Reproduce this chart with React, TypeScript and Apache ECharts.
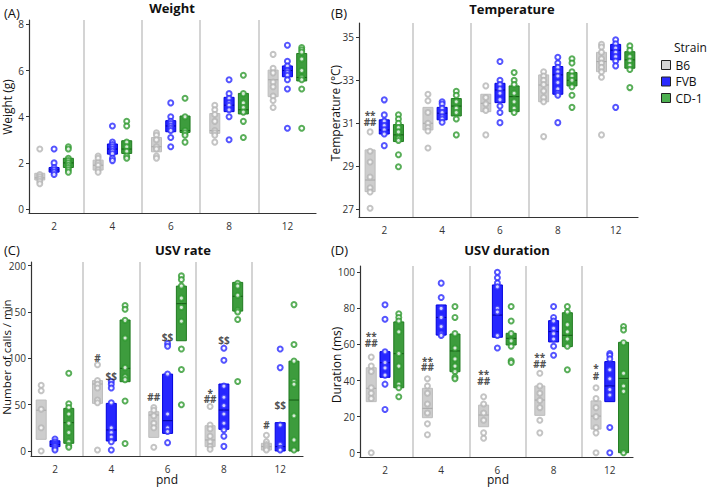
import React, { useEffect, useRef } from "react";
import * as echarts from "echarts";

const strains = ["B6", "FVB", "CD-1"];
const pnd = ["2", "4", "6", "8", "12"];

// Boxes: [low, median, high] per pnd
const weightBoxB6 = [[1.26, 1.35, 1.55], [1.69, 1.9, 2.12], [2.48, 2.7, 3.1], [3.28, 3.4, 4.14], [4.87, 5.6, 6.02]];
const weightBoxFVB = [[1.6, 1.7, 1.8], [2.38, 2.6, 2.82], [3.35, 3.6, 3.83], [4.22, 4.5, 4.84], [5.73, 6.0, 6.2]];
const weightBoxCD1 = [[1.8, 2.0, 2.2], [2.41, 2.6, 2.96], [3.32, 3.4, 4.03], [4.12, 4.3, 5.01], [5.55, 5.7, 6.74]];
const weightPtsB6 = [[2.6, 1.5, 1.4, 1.3, 1.2, 1.1], [2.3, 2.2, 2.0, 1.9, 1.7, 1.6], [3.3, 3.2, 3.0, 2.7, 2.6, 2.3, 2.2], [4.5, 4.3, 4.1, 3.8, 3.4, 3.3, 3.2, 2.9], [6.7, 6.1, 5.9, 5.5, 5.3, 4.9, 4.7, 4.4]];
const weightPtsFVB = [[2.6, 2.0, 1.8, 1.7, 1.6, 1.5], [3.6, 2.9, 2.8, 2.7, 2.6, 2.5, 2.4, 2.2, 2.1], [4.6, 4.0, 3.8, 3.7, 3.6, 3.5, 3.4, 3.1, 2.7], [5.6, 5.0, 4.8, 4.6, 4.5, 4.3, 4.0, 3.0], [7.1, 6.4, 6.2, 6.0, 5.9, 5.8, 5.6, 5.2, 3.5]];
const weightPtsCD1 = [[2.7, 2.6, 2.2, 2.1, 2.0, 1.9, 1.8, 1.7, 1.6], [3.8, 3.6, 2.9, 2.7, 2.5, 2.3, 2.2], [4.8, 4.0, 3.4, 3.3, 3.2, 2.9], [5.8, 5.0, 4.6, 4.4, 4.2, 3.8, 3.1], [7.0, 6.9, 6.8, 6.5, 6.0, 5.7, 5.6, 5.2, 3.5]];

const tempBoxB6 = [[27.82, 28.36, 29.76], [30.69, 31.0, 31.74], [31.54, 31.93, 32.35], [32.0, 32.78, 33.25], [33.4, 33.87, 34.3]];
const tempBoxFVB = [[30.5, 30.69, 31.16], [31.16, 31.47, 31.74], [31.96, 32.55, 32.86], [32.35, 33.25, 33.64], [33.95, 34.4, 34.67]];
const tempBoxCD1 = [[30.15, 30.46, 30.94], [31.34, 31.8, 32.15], [31.54, 32.24, 32.74], [32.74, 33.0, 33.36], [33.56, 33.95, 34.33]];
const tempPtsB6 = [[30.6, 29.7, 29.2, 28.5, 28.0, 27.8, 27.05], [32.35, 32.05, 31.5, 31.0, 30.8, 30.64, 29.85], [32.74, 32.2, 31.9, 31.6, 30.46], [33.4, 33.2, 33.0, 32.8, 32.5, 32.2, 32.0, 30.38], [34.67, 34.55, 34.3, 34.0, 33.8, 33.6, 33.4, 33.14, 30.46]];
const tempPtsFVB = [[32.09, 31.39, 31.1, 30.9, 30.7, 30.5, 29.96], [32.0, 31.9, 31.7, 31.5, 31.3, 31.2, 31.05], [33.87, 33.0, 32.8, 32.6, 32.4, 32.1, 31.8, 31.5, 31.03], [34.07, 33.8, 33.6, 33.4, 33.2, 32.9, 32.6, 32.4, 32.3, 31.03], [34.88, 34.7, 34.5, 34.3, 34.1, 33.9, 33.67, 31.74]];
const tempPtsCD1 = [[31.4, 31.2, 31.0, 30.8, 30.6, 30.3, 30.2, 29.54, 28.98], [32.49, 32.3, 32.0, 31.7, 31.5, 31.2, 30.46], [33.36, 33.0, 32.8, 32.4, 32.0, 31.7, 31.5], [34.0, 33.8, 33.4, 33.2, 33.0, 32.7, 32.3, 31.74], [34.6, 34.4, 34.1, 33.9, 33.7, 33.5, 32.66]];

const rateBoxB6 = [[12.6, 44, 55], [51.4, 72.3, 76], [14.7, 38.8, 42.4], [4.7, 11.9, 27.3], [1, 4.7, 8.3]];
const rateBoxFVB = [[4.7, 7, 11], [10.8, 22.7, 51.4], [19, 32.7, 83], [23.4, 44.2, 72.3], [0, 4.7, 30.6]];
const rateBoxCD1 = [[8.3, 30.6, 46], [74.8, 89.2, 141.4], [119, 159, 178], [151, 167, 182], [0, 55, 97]];
const ratePtsB6 = [[71, 65, 45, 25, 0], [93, 76, 72, 68, 55, 52, 1], [47, 44, 38, 30, 25, 4], [48, 28, 24, 16, 10, 5, 2], [17, 10, 7, 5, 3, 1]];
const ratePtsFVB = [[13, 10, 8, 7, 6, 5, 3, 1], [75, 72, 68, 52, 25, 20, 15, 10, 1], [116, 113, 83, 40, 25, 21, 9], [111, 98, 70, 58, 49, 40, 30, 23, 16, 5], [110, 90, 28, 7, 3, 1]];
const ratePtsCD1 = [[84, 51, 47, 40, 30, 20, 10, 6, 4], [157, 153, 141, 122, 90, 80, 77, 54, 8], [189, 185, 178, 165, 155, 140, 110, 88, 50], [181, 178, 168, 152, 150, 142, 75], [158, 115, 97, 75, 72, 38, 12, 1]];

const durBoxB6 = [[28.3, 35.7, 47.1], [19.4, 24.6, 35.7], [14.4, 20.9, 26.4], [20.7, 29.2, 37], [13.1, 20.3, 28.7]];
const durBoxFVB = [[41.8, 49.9, 56], [65.2, 75, 81.9], [64, 76.3, 93], [61.4, 67.1, 73.2], [28.3, 37, 50.5]];
const durBoxCD1 = [[36, 54.9, 72.5], [44.9, 56.4, 65.8], [59.7, 63.4, 66.2], [58.8, 65.1, 77.6], [0, 41.2, 61.2]];
const durPtsB6 = [[53, 48, 45, 36, 33, 30, 0], [41, 37, 33, 27, 22, 16, 10], [31, 27, 22, 18, 11, 8], [44, 37, 33, 29, 25, 18, 11], [36, 30, 25, 20, 14, 11, 0]];
const durPtsFVB = [[82, 74, 56, 50, 47, 43, 38, 24], [94, 86, 80, 75, 70, 66, 65], [100, 97, 94, 92, 80, 78, 65, 58], [81, 75, 73, 69, 66, 63, 59, 54], [55, 54, 52, 46, 41, 35, 32, 14, 0]];
const durPtsCD1 = [[77, 75, 73, 67, 55, 48, 38, 36, 31], [81, 75, 66, 58, 52, 48, 45, 42, 41], [81, 73, 66, 62, 59, 51, 50], [81, 78, 71, 67, 63, 59, 46], [70, 68, 61, 44, 37, 34, 0]];

// Significance marks: [pnd index, strain index, text, value]
const tempNotes = [[0, 0, "**", 31.54], [0, 0, "##", 31.05]];
const rateNotes = [[1, 0, "#", 100.7], [1, 1, "$$", 81], [2, 0, "##", 58.6], [2, 1, "$$", 122.7], [3, 0, "*", 65.8], [3, 0, "##", 56.1], [3, 1, "$$", 119.8], [4, 0, "#", 28], [4, 1, "$$", 49.6]];
const durNotes = [[0, 0, "**", 66.5], [0, 0, "##", 61], [1, 0, "**", 52.7], [1, 0, "##", 47.3], [2, 0, "**", 45.3], [2, 0, "##", 39.9], [3, 0, "**", 54.5], [3, 0, "##", 49.2], [4, 0, "*", 48.6], [4, 0, "#", 42.7]];

const weightTicks = [0, 2, 4, 6, 8];
const tempTicks = [27, 29, 31, 33, 35];
const rateTicks = [0, 50, 100, 150, 200];
const durTicks = [0, 20, 40, 60, 80, 100];

const FONT = "'Open Sans', 'DejaVu Sans', sans-serif";
const offsets = [-0.245, 0, 0.245];
const boxFill = ["rgba(196,196,196,0.85)", "rgba(20,20,255,0.92)", "rgba(40,145,40,0.9)"];
const boxStroke = ["#bdbdbd", "#0000dd", "#1f7a1f"];
const medStroke = ["#a6a6a6", "#00009a", "#145a14"];
const ptColor = ["#b5b5b5", "#2a2aff", "#2f9a2f"];
const legendFill = ["#d6d6d6", "#2a2aff", "#4caf50"];

const panels = [
  { title: "Weight", tag: "(A)", yName: "Weight (g)", grid: { left: 29, top: 20, width: 287, height: 193 }, x: [-0.43, 4.49], y: [-0.17, 8.19], ticks: weightTicks, boxes: [weightBoxB6, weightBoxFVB, weightBoxCD1], pts: [weightPtsB6, weightPtsFVB, weightPtsCD1], notes: [] as any[] },
  { title: "Temperature", tag: "(B)", yName: "Temperature (°C)", grid: { left: 359, top: 23, width: 279, height: 194 }, x: [-0.437, 4.386], y: [26.64, 35.665], ticks: tempTicks, boxes: [tempBoxB6, tempBoxFVB, tempBoxCD1], pts: [tempPtsB6, tempPtsFVB, tempPtsCD1], notes: tempNotes },
  { title: "USV rate", tag: "(C)", yName: "Number of calls / min", grid: { left: 31, top: 262, width: 272, height: 194 }, x: [-0.426, 4.405], y: [-5.4, 204], ticks: rateTicks, boxes: [rateBoxB6, rateBoxFVB, rateBoxCD1], pts: [ratePtsB6, ratePtsFVB, ratePtsCD1], notes: rateNotes },
  { title: "USV duration", tag: "(D)", yName: "Duration (ms)", grid: { left: 360, top: 266, width: 273, height: 191 }, x: [-0.445, 4.413], y: [-2.38, 103.5], ticks: durTicks, boxes: [durBoxB6, durBoxFVB, durBoxCD1], pts: [durPtsB6, durPtsFVB, durPtsCD1], notes: durNotes },
];

function buildOption() {
  const grid: any[] = [];
  const xAxis: any[] = [];
  const yAxis: any[] = [];
  const series: any[] = [];
  panels.forEach((p, gi) => {
    grid.push({ ...p.grid, containLabel: false });
    xAxis.push({
      type: "value", gridIndex: gi, min: p.x[0], max: p.x[1],
      axisLine: { show: true, onZero: false, lineStyle: { color: "#333", width: 1.2 } },
      axisTick: { show: false },
      splitLine: { show: false },
      axisLabel: { customValues: [0, 1, 2, 3, 4], formatter: (v: number) => pnd[Math.round(v)] ?? "", color: "#333", fontSize: 10, margin: 8, fontFamily: FONT },
    });
    yAxis.push({
      type: "value", gridIndex: gi, min: p.y[0], max: p.y[1],
      axisLine: { show: true, onZero: false, lineStyle: { color: "#333", width: 1.2 } },
      axisTick: { show: true, length: 3, customValues: p.ticks, lineStyle: { color: "#333" } },
      splitLine: { show: false },
      axisLabel: { customValues: p.ticks, color: "#333", fontSize: 10, margin: 5, fontFamily: FONT },
    });
    // separators
    series.push({
      type: "line", xAxisIndex: gi, yAxisIndex: gi, data: [], silent: true,
      markLine: {
        silent: true, symbol: ["none", "none"], label: { show: false },
        lineStyle: { color: "#c6c6c6", width: 1.5, type: "solid" },
        data: [0.5, 1.5, 2.5, 3.5].map((v) => ({ xAxis: v })),
      },
    });
    strains.forEach((s, si) => {
      series.push({
        name: s, type: "custom", xAxisIndex: gi, yAxisIndex: gi, z: 3,
        itemStyle: { color: legendFill[si] },
        data: p.boxes[si].map((b, ci) => [ci + offsets[si], b[0], b[1], b[2]]),
        encode: { x: 0, y: [1, 2, 3] },
        renderItem: (params: any, api: any) => {
          const x = api.value(0);
          const top = api.coord([x, api.value(3)]);
          const bot = api.coord([x, api.value(1)]);
          const med = api.coord([x, api.value(2)]);
          const w = 10;
          return {
            type: "group",
            children: [
              { type: "rect", shape: { x: top[0] - w / 2, y: top[1], width: w, height: bot[1] - top[1] }, style: { fill: boxFill[si], stroke: boxStroke[si], lineWidth: 1 } },
              { type: "line", shape: { x1: med[0] - w / 2, y1: med[1], x2: med[0] + w / 2, y2: med[1] }, style: { stroke: medStroke[si], lineWidth: 1 } },
            ],
          };
        },
      });
      const pts: number[][] = [];
      p.pts[si].forEach((arr, ci) => arr.forEach((v) => pts.push([ci + offsets[si], v])));
      series.push({
        name: s, type: "scatter", xAxisIndex: gi, yAxisIndex: gi, z: 4,
        symbol: "emptyCircle", symbolSize: 5,
        itemStyle: { color: ptColor[si], borderColor: ptColor[si], borderWidth: 1.1 },
        data: pts,
      });
    });
    if (p.notes.length) {
      series.push({
        type: "scatter", xAxisIndex: gi, yAxisIndex: gi, z: 5, symbolSize: 1,
        itemStyle: { color: "rgba(0,0,0,0)" },
        data: p.notes.map((n: any) => ({
          value: [n[0] + offsets[n[1]], n[3]],
          label: { show: true, position: "inside", formatter: n[2], offset: [0, n[2].includes("*") ? 3 : 0] },
        })),
        label: { show: true, color: "#222", fontWeight: "bold", fontSize: 10, fontFamily: FONT },
      });
    }
  });

  const txt = (text: string, x: number, y: number, size: number, weight = "normal", rot = 0, align = "center") => ({
    type: "text", x, y, rotation: rot, silent: true,
    style: { text, fontSize: size, fontWeight: weight, fontFamily: FONT, fill: "#111", align, verticalAlign: "middle" },
  });
  const graphic = [
    txt("Weight", 172, 8, 13, "bold"),
    txt("Temperature", 512, 9, 13, "bold"),
    txt("USV rate", 183, 250, 13, "bold"),
    txt("USV duration", 507, 250, 13, "bold"),
    txt("(A)", 4, 13, 13, "normal", 0, "left"),
    txt("(B)", 331, 13, 13, "normal", 0, "left"),
    txt("(C)", 4, 250, 13, "normal", 0, "left"),
    txt("(D)", 331, 250, 13, "normal", 0, "left"),
    txt("Weight (g)", 7, 107, 12, "normal", Math.PI / 2),
    txt("Temperature (°C)", 335, 113, 12, "normal", Math.PI / 2),
    txt("Number of calls / min", 6, 357, 11.5, "normal", Math.PI / 2),
    txt("Duration (ms)", 336, 365, 12, "normal", Math.PI / 2),
    txt("pnd", 167, 479, 12),
    txt("pnd", 498, 479, 12),
    txt("Strain", 674, 47, 12, "normal", 0, "left"),
  ];

  return {
    animation: false,
    backgroundColor: "#fff",
    textStyle: { fontFamily: FONT },
    grid, xAxis, yAxis, series, graphic,
    legend: {
      orient: "vertical", left: 661, top: 59, itemWidth: 9, itemHeight: 9, itemGap: 4.5, padding: 0,
      icon: "rect", selectedMode: false,
      textStyle: { fontSize: 12, color: "#111", fontFamily: FONT },
      data: strains.map((s, i) => ({ name: s, icon: "rect", itemStyle: { color: legendFill[i], borderColor: "#222", borderWidth: 1 } })),
    },
  };
}

export default function App() {
  const ref = useRef<HTMLDivElement>(null);
  useEffect(() => {
    if (!ref.current) return;
    const chart = echarts.init(ref.current, undefined, { renderer: "svg" });
    chart.setOption(buildOption() as any);
    return () => chart.dispose();
  }, []);
  return <div ref={ref} style={{ position: "fixed", left: 0, top: 0, width: 709, height: 487 }} />;
}
